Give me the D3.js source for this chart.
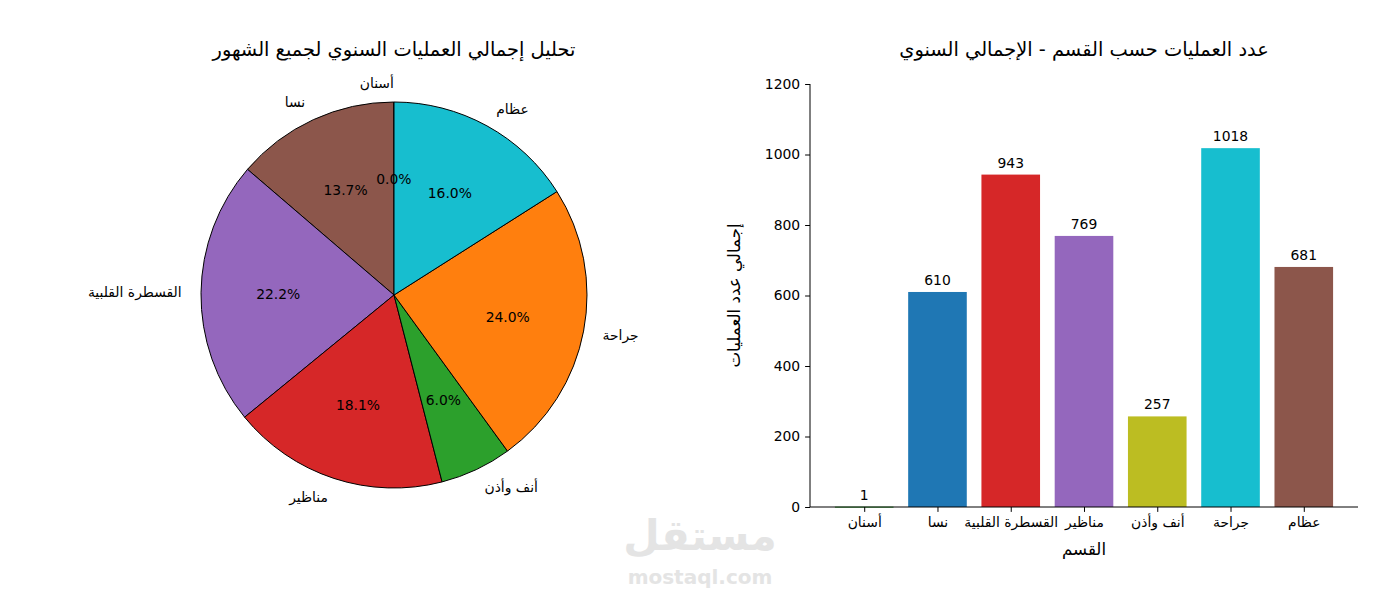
<!DOCTYPE html>
<html><head><meta charset="utf-8">
<script src="https://cdn.jsdelivr.net/npm/d3@7"></script>
<style>body{margin:0;background:#fff}text{font-family:"DejaVu Sans",sans-serif}</style>
</head><body>
<svg id="c" width="1400" height="600"></svg>
<script>
const categories = ["أسنان","نسا","القسطرة القلبية","مناظير","أنف وأذن","جراحة","عظام"];
const barValues = [1,610,943,769,257,1018,681];
const barColors = ["#2ca02c","#1f77b4","#d62728","#9467bd","#bcbd22","#17becf","#8c564b"];
const pieShares = [0.02,13.7,22.2,18.1,6.0,24.0,16.0];
const pieColors = ["#1f77b4","#8c564b","#9467bd","#d62728","#2ca02c","#ff7f0e","#17becf"];
const yTicks = [0,200,400,600,800,1000,1200];
const pieTitle = "تحليل إجمالي العمليات السنوي لجميع الشهور";
const barTitle = "عدد العمليات حسب القسم - الإجمالي السنوي";
const xLabel = "القسم";
const yLabel = "إجمالي عدد العمليات";

const svg = d3.select("#c");
const FS = 13.9, LS = 16.7, TS = 19.4;

// watermark
svg.append("text").attr("x",700).attr("y",550).attr("text-anchor","middle")
  .attr("font-size",42).attr("font-weight","bold").attr("fill","#e4e4e4").text("مستقل");
svg.append("text").attr("x",700).attr("y",584).attr("text-anchor","middle")
  .attr("font-size",20).attr("font-weight","bold").attr("fill","#e4e4e4").text("mostaql.com");

// ---- Pie ----
const cx = 394, cy = 295, R = 193;
svg.append("text").attr("x",cx).attr("y",56).attr("text-anchor","middle").attr("font-size",TS).text(pieTitle);
const total = d3.sum(pieShares);
const pie = d3.pie().sort(null).startAngle(0).endAngle(-2*Math.PI);
const arcs = pie(pieShares);
const arc = d3.arc().innerRadius(0).outerRadius(R);
const pg = svg.append("g").attr("transform",`translate(${cx},${cy})`);
pg.selectAll("path").data(arcs).join("path")
  .attr("d",arc).attr("fill",(d,i)=>pieColors[i]).attr("stroke","#000").attr("stroke-width",1);
arcs.forEach((d,i)=>{
  const a = (d.startAngle+d.endAngle)/2;
  const lx = 1.1*R*Math.sin(a), ly = -1.1*R*Math.cos(a);
  pg.append("text").attr("x",lx).attr("y",ly).attr("dy","0.35em")
    .attr("text-anchor", lx>0?"start":"end").attr("font-size",FS).text(categories[i]);
  const px = 0.6*R*Math.sin(a), py = -0.6*R*Math.cos(a);
  pg.append("text").attr("x",px).attr("y",py).attr("dy","0.35em")
    .attr("text-anchor","middle").attr("font-size",FS).text((d.value/total*100).toFixed(1)+"%");
});

// ---- Bars ----
const L = 810, Rr = 1358, T = 84, B = 507;
const n = categories.length;
const x = d3.scaleLinear().domain([-0.74, n-1+0.74]).range([L,Rr]);
const y = d3.scaleLinear().domain([0,1200]).range([B,T]);
const bw = x(0.4)-x(0);
svg.append("text").attr("x",(L+Rr)/2).attr("y",56).attr("text-anchor","middle").attr("font-size",TS).text(barTitle);
const bg = svg.append("g");
bg.selectAll("rect").data(barValues).join("rect")
  .attr("x",(d,i)=>x(i)-bw).attr("width",2*bw)
  .attr("y",d=>y(d)).attr("height",d=>Math.max(B-y(d),1)).attr("fill",(d,i)=>barColors[i]);
bg.selectAll("text.v").data(barValues).join("text").attr("class","v")
  .attr("x",(d,i)=>x(i)).attr("y",d=>y(d)-7).attr("text-anchor","middle").attr("font-size",FS).text(d=>d);

const yAxis = d3.axisLeft(y).tickValues(yTicks).tickFormat(d3.format("d")).tickSize(4.9).tickPadding(4.9);
const ga = svg.append("g").attr("transform",`translate(${L},0)`).call(yAxis);
ga.selectAll("text").attr("font-size",FS).attr("font-family","DejaVu Sans").attr("fill","#000");
ga.select(".domain").attr("d",`M0,${B}V${T}`);
const xAxis = d3.axisBottom(x).tickValues(d3.range(n)).tickFormat(i=>categories[i]).tickSize(4.9).tickPadding(4.9);
const gx = svg.append("g").attr("transform",`translate(0,${B})`).call(xAxis);
gx.selectAll("text").attr("font-size",FS).attr("font-family","DejaVu Sans").attr("fill","#000");
gx.select(".domain").attr("d",`M${L},0H${Rr}`);
svg.selectAll(".domain").attr("stroke","#000").attr("stroke-width",1);
svg.selectAll(".tick line").attr("stroke","#000");

svg.append("text").attr("x",(L+Rr)/2).attr("y",555).attr("text-anchor","middle").attr("font-size",LS).text(xLabel);
svg.append("text").attr("transform",`translate(740,${(T+B)/2}) rotate(-90)`).attr("text-anchor","middle").attr("font-size",LS).text(yLabel);
</script>
</body></html>
